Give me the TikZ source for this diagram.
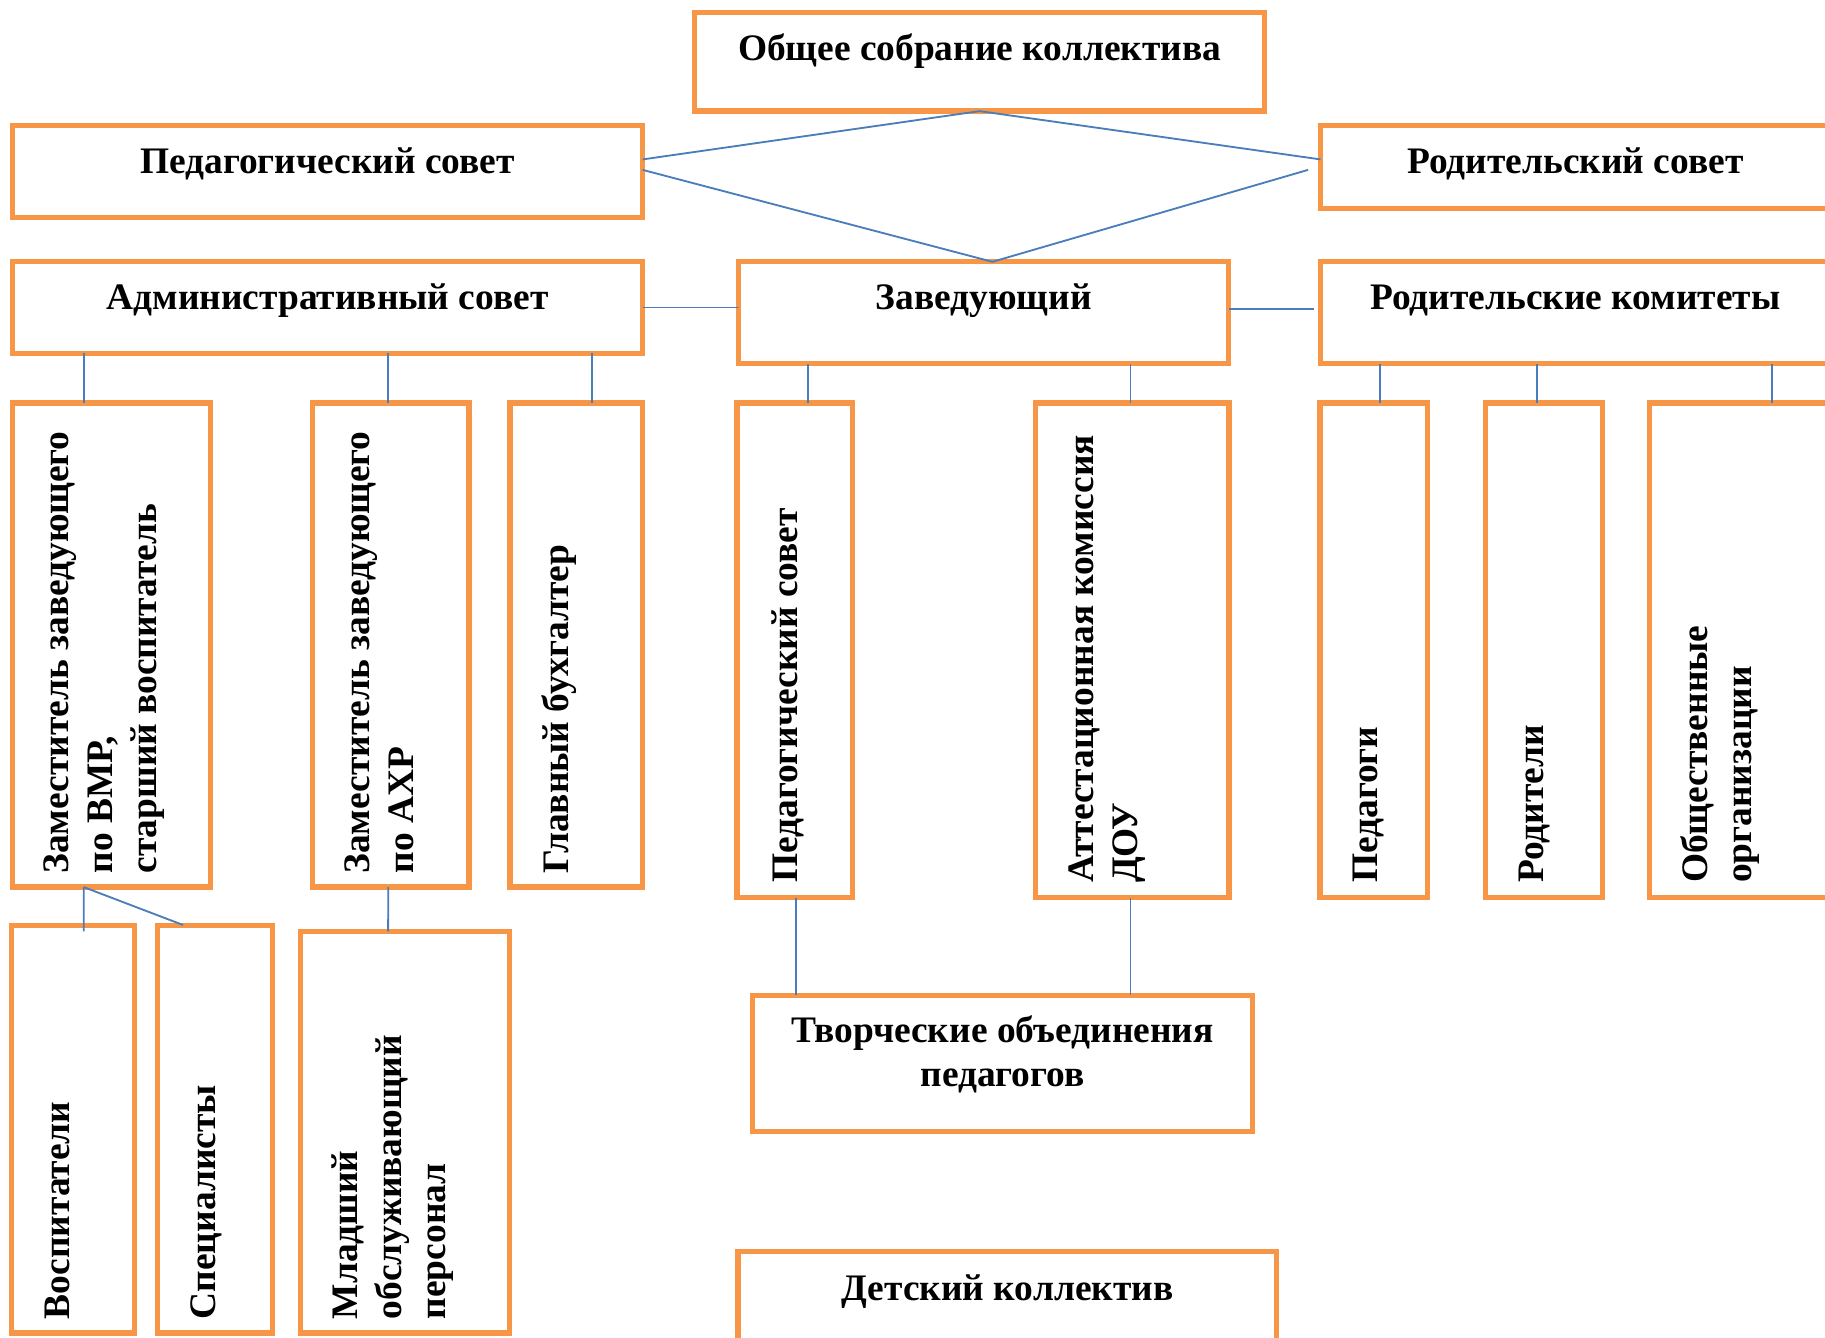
\documentclass[tikz,border=0pt]{standalone}
\usepackage{fontspec}
\setmainfont{Liberation Serif}
\usetikzlibrary{fit,calc}
\definecolor{orgC}{HTML}{F79646}
\definecolor{conC}{HTML}{4A7EBB}
\tikzset{
  box/.style={draw=orgC, line width=1.3pt, rectangle, inner sep=0pt, outer sep=0pt},
  conn/.style={draw=conC, line width=0.45pt},
  htxt/.style={font=\bfseries\fontsize{9.15}{10.75}\selectfont, align=center, anchor=base, inner sep=0pt},
  vtxt/.style={font=\bfseries\fontsize{9.15}{10.75}\selectfont, align=left, rotate=90, anchor=north west, inner sep=0pt},
}
\begin{document}
\begin{tikzpicture}[x=0.01cm, y=-0.01cm]
\useasboundingbox (0,0) rectangle (1568.6,1150);
% boxes
\node[box, fit={(597,11) (1087,95.5)}] (A) {};
\node[box, fit={(10.7,108) (552.4,187)}] (PS) {};
\node[box, fit={(1135,108) (1575,179)}] (RS) {};
\node[box, fit={(10.7,225) (552.4,303.6)}] (AS) {};
\node[box, fit={(635,225) (1056,312.5)}] (ZV) {};
\node[box, fit={(1135,225) (1575,312.5)}] (RK) {};
\node[box, fit={(10.7,346.5) (181,762.5)}] (ZVMR) {};
\node[box, fit={(268.5,346.5) (403,762.5)}] (ZAHR) {};
\node[box, fit={(438.3,346.5) (552.4,762.5)}] (GB) {};
\node[box, fit={(633.5,346.5) (733,771.5)}] (PSV) {};
\node[box, fit={(890.2,346.5) (1056.2,771.5)}] (AK) {};
\node[box, fit={(1134.5,346.5) (1226.7,771.5)}] (PED) {};
\node[box, fit={(1276.6,346.5) (1377.6,771.5)}] (ROD) {};
\node[box, fit={(1417.6,346.5) (1590,771.5)}] (OO) {};
\node[box, fit={(9.9,795.6) (115.7,1145.6)}] (VOS) {};
\node[box, fit={(135.5,795.6) (234,1145.6)}] (SPEC) {};
\node[box, fit={(258,800.4) (438,1145.6)}] (ML) {};
\node[box, fit={(646.8,855.5) (1076.6,972.3)}] (TV) {};
\node[box, fit={(634.4,1075.5) (1097.3,1200)}] (DK) {};
% horizontal texts
\node[htxt] (tA) at ($(A.north)+(0,41)$) {Общее собрание коллектива};
\node[htxt] (tPS) at ($(PS.north)+(0,41)$) {Педагогический совет};
\node[htxt] (tRS) at ($(1354,108)+(0,41)$) {Родительский совет};
\node[htxt] (tAS) at ($(AS.north)+(0,41)$) {Административный совет};
\node[htxt] (tZV) at ($(ZV.north)+(0,41)$) {Заведующий};
\node[htxt] (tRK) at ($(1354,225)+(0,41)$) {Родительские комитеты};
\node[htxt] (tTV) at ($(TV.north)+(0,78)$) {Творческие объединения\\педагогов};
\node[htxt] (tDK) at ($(DK.north)+(0,42)$) {Детский коллектив};
% vertical texts
\node[vtxt] (tZVMR) at ($(ZVMR.south west)+(26,-11)$) {Заместитель заведующего\\по ВМР,\\старший воспитатель};
\node[vtxt] (tZAHR) at ($(ZAHR.south west)+(27,-11)$) {Заместитель заведующего\\по АХР};
\node[vtxt] (tGB) at ($(GB.south west)+(27,-11)$) {Главный бухгалтер};
\node[vtxt] (tPSV) at ($(PSV.south west)+(29,-12)$) {Педагогический совет};
\node[vtxt] (tAK) at ($(AK.south west)+(27.5,-12)$) {Аттестационная комиссия\\ДОУ};
\node[vtxt] (tPED) at ($(PED.south west)+(28,-12)$) {Педагоги};
\node[vtxt] (tROD) at ($(ROD.south west)+(28,-12)$) {Родители};
\node[vtxt] (tOO) at ($(OO.south west)+(26,-12)$) {Общественные\\организации};
\node[vtxt] (tVOS) at ($(VOS.south west)+(28,-11)$) {Воспитатели};
\node[vtxt] (tSPEC) at ($(SPEC.south west)+(28,-11)$) {Специалисты};
\node[vtxt] (tML) at ($(ML.south west)+(26.5,-11)$) {Младший\\обслуживающий\\персонал};
% connectors
\draw[conn] ([yshift=0.105cm]PS.east) -- (A.south) -- ([yshift=0.065cm]RS.west);
\draw[conn] ([yshift=0.015cm]PS.east) -- ([xshift=0.075cm]ZV.north) -- ([xshift=-0.107cm,yshift=-0.025cm]RS.west);
\draw[conn] (AS.east) -- (AS.east -| ZV.west);
\draw[conn] ([yshift=0.03cm]ZV.east) -- ([xshift=-0.06cm,yshift=0.03cm]RK.west);
\draw[conn] ([xshift=-0.238cm]ZVMR.north) -- ([xshift=-0.238cm]ZVMR.north |- AS.south);
\draw[conn] ([xshift=-0.02cm]ZAHR.north) -- ([xshift=-0.02cm]ZAHR.north |- AS.south);
\draw[conn] ([xshift=0.137cm]GB.north) -- ([xshift=0.137cm]GB.north |- AS.south);
\draw[conn] ([xshift=0.115cm]PSV.north) -- ([xshift=0.115cm]PSV.north |- ZV.south);
\draw[conn] ([xshift=-0.015cm]AK.north) -- ([xshift=-0.015cm]AK.north |- ZV.south);
\draw[conn] ([xshift=0.058cm]PED.north) -- ([xshift=0.058cm]PED.north |- RK.south);
\draw[conn] ([xshift=-0.063cm]ROD.north) -- ([xshift=-0.063cm]ROD.north |- RK.south);
\draw[conn] ([xshift=1.057cm]OO.north west) -- ([xshift=1.057cm]OO.north west |- RK.south);
\draw[conn] ([xshift=-0.238cm]ZVMR.south) -- ([xshift=0.092cm,yshift=-0.05cm]VOS.north);
\draw[conn] ([xshift=-0.238cm]ZVMR.south) -- ([xshift=0.218cm,yshift=0.006cm]SPEC.north west);
\draw[conn] ([xshift=-0.02cm]ZAHR.south) -- ([xshift=-0.144cm]ML.north);
\draw[conn] ([xshift=0.01cm]PSV.south) -- ([xshift=0.01cm]PSV.south |- TV.north);
\draw[conn] ([xshift=-0.015cm]AK.south) -- ([xshift=-0.015cm]AK.south |- TV.north);
\end{tikzpicture}
\end{document}
